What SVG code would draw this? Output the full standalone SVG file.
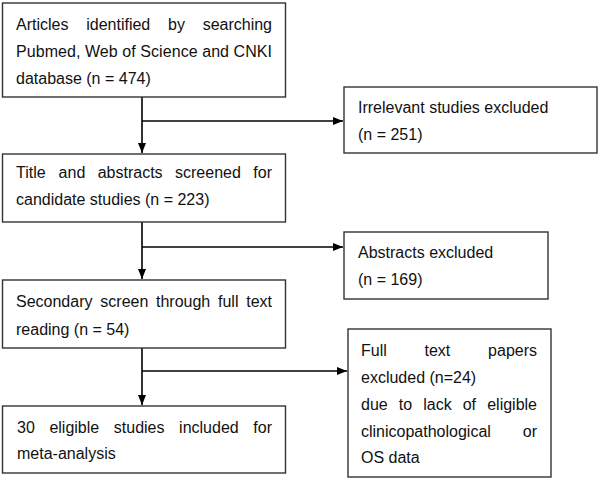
<svg xmlns="http://www.w3.org/2000/svg" width="600" height="480" viewBox="0 0 600 480">
<defs>
<style>
.box{fill:#fff;stroke:#333;stroke-width:1.4}
.t{font-family:"Liberation Sans",Arial,sans-serif;font-size:16px;fill:#111}
.e{text-anchor:end}
.c{fill:none;stroke:#000;stroke-width:1.6}
</style>
<marker id="ah" markerUnits="userSpaceOnUse" markerWidth="10" markerHeight="10" viewBox="0 0 10 10" refX="10" refY="5" orient="auto">
<path d="M0,1 L10,5 L0,9 Z" fill="#000"/>
</marker>
</defs>
<rect width="600" height="480" fill="#fff"/>
<g id="connectors">
<line class="c" x1="142" y1="97" x2="142" y2="153" marker-end="url(#ah)"/>
<line class="c" x1="142" y1="121" x2="343" y2="121" marker-end="url(#ah)"/>
<line class="c" x1="142" y1="222" x2="142" y2="279" marker-end="url(#ah)"/>
<line class="c" x1="142" y1="247" x2="343" y2="247" marker-end="url(#ah)"/>
<line class="c" x1="142" y1="348" x2="142" y2="405" marker-end="url(#ah)"/>
<line class="c" x1="142" y1="371" x2="347" y2="371" marker-end="url(#ah)"/>
</g>
<g id="n1">
<rect class="box" x="2.5" y="3" width="283" height="94"/>
<text class="t" y="30"><tspan x="16">Articles</tspan><tspan x="86.2">identified</tspan><tspan x="168">by</tspan></text>
<text class="t e" x="272" y="30">searching</text>
<text class="t" x="16" y="57" textLength="256" lengthAdjust="spacing">Pubmed, Web of Science and CNKI</text>
<text class="t" x="16" y="84">database (n = 474)</text>
</g>
<g id="n2">
<rect class="box" x="344" y="87" width="253" height="66"/>
<text class="t" x="358" y="113">Irrelevant studies excluded</text>
<text class="t" x="358" y="140">(n = 251)</text>
</g>
<g id="n3">
<rect class="box" x="2.5" y="154" width="283" height="68"/>
<text class="t" y="178"><tspan x="16">Title</tspan><tspan x="58.6">and</tspan><tspan x="97.7">abstracts</tspan><tspan x="175">screened</tspan></text>
<text class="t e" x="272" y="178">for</text>
<text class="t" x="16" y="205">candidate studies (n = 223)</text>
</g>
<g id="n4">
<rect class="box" x="344" y="232" width="204" height="67"/>
<text class="t" x="358" y="258">Abstracts excluded</text>
<text class="t" x="358" y="285">(n = 169)</text>
</g>
<g id="n5">
<rect class="box" x="2.5" y="280" width="283" height="68"/>
<text class="t" y="307"><tspan x="16">Secondary</tspan><tspan x="100.3">screen</tspan><tspan x="156">through</tspan><tspan x="218">full</tspan></text>
<text class="t e" x="272" y="307">text</text>
<text class="t" x="16" y="335">reading (n = 54)</text>
</g>
<g id="n6">
<rect class="box" x="348" y="329" width="203" height="148"/>
<text class="t" y="356"><tspan x="361">Full</tspan><tspan x="424.5">text</tspan></text>
<text class="t e" x="537" y="356">papers</text>
<text class="t" x="361" y="383">excluded (n=24)</text>
<text class="t" y="410"><tspan x="361">due</tspan><tspan x="398.8">to</tspan><tspan x="423.2">lack</tspan><tspan x="462.7">of</tspan></text>
<text class="t e" x="537" y="410">eligible</text>
<text class="t" x="361" y="437">clinicopathological</text>
<text class="t e" x="537" y="437">or</text>
<text class="t" x="361" y="463">OS data</text>
</g>
<g id="n7">
<rect class="box" x="2.5" y="406" width="283" height="67"/>
<text class="t" y="433"><tspan x="17">30</tspan><tspan x="49.4">eligible</tspan><tspan x="113.8">studies</tspan><tspan x="179.1">included</tspan></text>
<text class="t e" x="272" y="433">for</text>
<text class="t" x="17" y="459">meta-analysis</text>
</g>
</svg>
